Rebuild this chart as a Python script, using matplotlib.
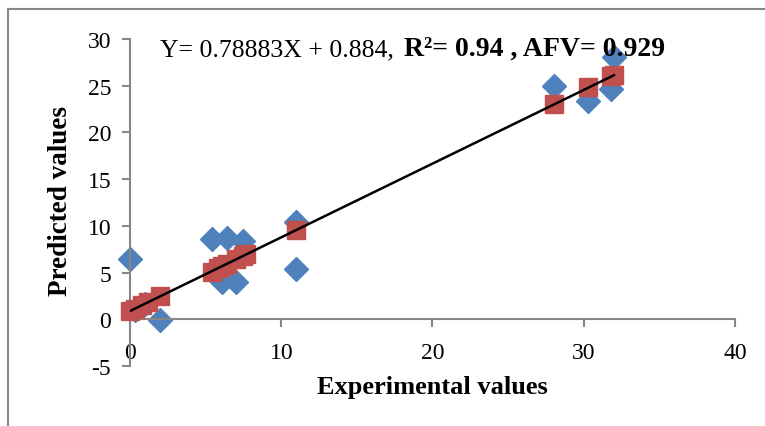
import numpy as np
import matplotlib
matplotlib.use('Agg')
import matplotlib.pyplot as plt
from matplotlib.lines import Line2D

plt.rcParams['font.family'] = ['Liberation Serif', 'DejaVu Serif']
plt.rcParams['axes.unicode_minus'] = False

############################################
# observed points (blue diamonds)
exp_blue = [0.0, 0.3, 1.0, 2.0, 5.4, 6.4, 7.5, 6.1, 7.0, 5.6, 11.0, 11.0, 28.0, 30.3, 31.8, 32.0]
pred_blue = [6.4, 1.0, 1.6, -0.1, 8.6, 8.7, 8.4, 4.0, 4.0, 5.0, 10.4, 5.4, 25.0, 23.4, 24.6, 28.1]

# predicted points (red squares)
exp_red = [0.0, 0.3, 0.8, 1.2, 2.0, 5.4, 5.8, 6.1, 6.4, 7.0, 7.5, 7.7, 11.0, 28.0, 30.3, 31.8, 32.0]
pred_red = [0.9, 1.1, 1.5, 1.8, 2.5, 5.1, 5.5, 5.7, 5.9, 6.4, 6.8, 7.0, 9.6, 23.0, 24.9, 26.0, 26.2]

slope, intercept = 0.78883, 0.884
xticks = [0, 10, 20, 30, 40]
yticks = [-5, 0, 5, 10, 15, 20, 25, 30]
############################################

fig = plt.figure(figsize=(7.65, 4.27), dpi=100)
ax = fig.add_axes([130/765, 1-367/427, 605/765, 327/427])

ax.plot(exp_blue, pred_blue, linestyle='none', marker='D', markersize=12,
        color='#4F81BD', zorder=2, clip_on=False)
ax.plot(exp_red, pred_red, linestyle='none', marker='s', markersize=12.5,
        color='#C0504D', zorder=3, clip_on=False)

xl = np.array([min(exp_red), max(exp_red)])
ax.plot(xl, slope*xl + intercept, color='black', lw=1.8, zorder=4)

ax.set_xlim(0, 40)
ax.set_ylim(-5, 30)
ax.set_xticks(xticks)
ax.set_yticks(yticks)

for s in ['top', 'right']:
    ax.spines[s].set_visible(False)
ax.spines['bottom'].set_position(('data', 0))
ax.spines['left'].set_color('#868686')
ax.spines['bottom'].set_color('#868686')
ax.spines['left'].set_linewidth(1.5)
ax.spines['bottom'].set_linewidth(1.5)
ax.tick_params(axis='both', colors='#868686', labelcolor='black', labelsize=17, width=1.5, length=5.5)
ax.tick_params(axis='x', pad=11)
ax.tick_params(axis='y', pad=8)

ax.set_xlabel('Experimental values', fontsize=19, fontweight='bold', labelpad=0)
ax.xaxis.set_label_coords(302/605, -9/327)
ax.set_ylabel('Predicted values', fontsize=19.5, fontweight='bold')
ax.yaxis.set_label_coords(-57/605, 0.5 + 2/327)

fig.text(160/765, 1-56/427, 'Y= 0.78883X + 0.884,', fontsize=18.5, va='baseline')
fig.text(404/765, 1-56/427, 'R²= 0.94 , AFV= 0.929', fontsize=20,
         fontweight='bold', va='baseline')

# chart frame
fig.add_artist(Line2D([8/765, 8/765], [0, 1-10/427], color='#888888', lw=1.5))
fig.add_artist(Line2D([8/765, 1], [1-10/427, 1-10/427], color='#888888', lw=1.5))

fig.savefig('out.png', dpi=100, facecolor='white')
